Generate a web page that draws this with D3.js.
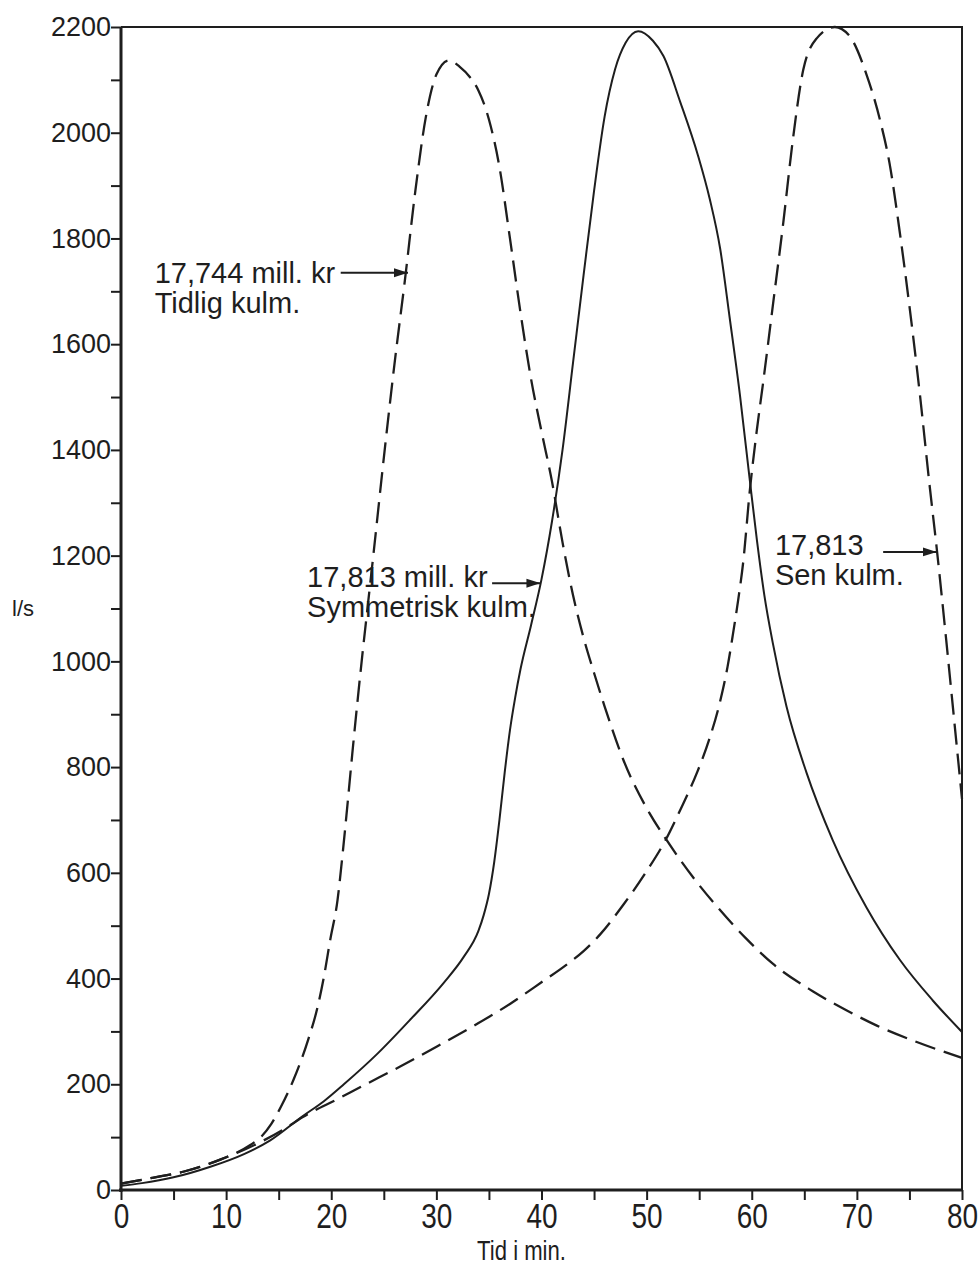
<!DOCTYPE html>
<html>
<head>
<meta charset="utf-8">
<script src="https://cdn.jsdelivr.net/npm/d3@7"></script>
<style>
  html, body { margin: 0; padding: 0; background: #fff; }
  svg { display: block; }
</style>
</head>
<body>
<svg id="chart" width="980" height="1268"></svg>
<script>
// ---------------- DATA ----------------
// Symmetrisk kulm. (solid)
const symT = [0, 2, 5, 8.5, 11.7, 14.2, 17.3, 19.3, 21.2, 24.4, 27.5, 30.7, 32.6, 34, 34.5, 35, 35.5, 36, 36.5, 37, 37.5, 38, 39, 40, 41, 42, 43, 44, 45, 46, 47, 48, 49.2, 50.6, 51.6, 53.2, 54.9, 56, 57, 57.9, 58.9, 59.8, 60.5, 61.2, 62, 63.3, 65.2, 67.7, 70.9, 74.1, 77.2, 80];
const symV = [8, 13, 24, 44, 68, 94, 140, 168, 200, 258, 322, 392, 441, 490, 520, 560, 620, 700, 790, 870, 932, 985, 1068, 1155, 1265, 1400, 1565, 1730, 1890, 2030, 2120, 2170, 2192, 2174, 2145, 2058, 1956, 1875, 1780, 1650, 1500, 1345, 1228, 1125, 1035, 915, 790, 662, 535, 435, 359, 299];

// Tidlig kulm. (dashed)
const earlyT = [0, 3, 6, 9.5, 12.3, 13.3, 14.3, 15.2, 16.4, 17.8, 18.7, 19.3, 19.9, 20.6, 21, 21.5, 22, 22.5, 23, 23.5, 24, 25, 26, 27, 28, 29, 30, 31.2, 32.2, 33.2, 34, 35, 36, 37, 38, 39, 40, 41, 42, 43, 44, 45, 46, 47.8, 50.3, 51.8, 54.4, 56.7, 59.5, 62, 65.8, 69, 71.9, 75.7, 80];
const earlyV = [12, 23, 35, 58, 85, 100, 125, 157, 208, 284, 346, 403, 473, 549, 620, 720, 825, 925, 1020, 1110, 1200, 1385, 1560, 1720, 1890, 2030, 2110, 2137, 2125, 2105, 2080, 2025, 1935, 1800, 1660, 1535, 1435, 1340, 1225, 1125, 1045, 978, 915, 813, 712, 665, 592, 536, 475, 428, 376, 340, 311, 280, 250];

// Sen kulm. (dashed)
const lateT = [0, 3, 6, 9.5, 13, 15.5, 17.3, 20.6, 23.1, 26.6, 30.1, 33.5, 37, 40, 42.5, 44, 45.6, 47.8, 50, 51.8, 53.2, 54.8, 56, 57, 57.7, 58.2, 58.7, 59.2, 59.8, 60.5, 61.1, 62, 63, 63.9, 64.9, 66.2, 67.9, 69.3, 70.9, 72.2, 73.1, 74.1, 75, 76, 76.9, 77.6, 78.5, 79.3, 80];
const lateV = [12, 23, 35, 58, 88, 115, 138, 172, 198, 234, 272, 310, 352, 393, 428, 452, 484, 540, 603, 662, 719, 790, 855, 925, 990, 1050, 1115, 1190, 1320, 1440, 1530, 1672, 1830, 1985, 2119, 2179, 2200, 2183, 2111, 2024, 1943, 1809, 1672, 1504, 1336, 1213, 1040, 880, 740];

// Axis ticks
const xTicks = [0, 5, 10, 15, 20, 25, 30, 35, 40, 45, 50, 55, 60, 65, 70, 75, 80];
const yTicks = d3.range(0, 2201, 100);

// Annotation texts
const annLine1 = ["17,744 mill. kr", "17,813 mill. kr", "17,813"];
const annLine2 = ["Tidlig kulm.", "Symmetrisk kulm.", "Sen kulm."];
// annotation anchor points in data space (time, l/s)
const annTextT = [3.2, 17.7, 62.2];
const annTextV = [1716, 1141, 1201];
const annArrowFromT = [20.9, 35.3, 72.5];
const annArrowToT = [27.3, 39.9, 77.6];
const annArrowV = [1735, 1148, 1207];

// ---------------- DRAW ----------------
(function () {
const svg = d3.select("#chart");
const pl = 121, pr = 962, pt = 27, pb = 1190;
const x = d3.scaleLinear().domain([0, 80]).range([pl, pr]);
const y = d3.scaleLinear().domain([0, 2200]).range([pb, pt]);
const ink = "#1e1e1e";
const font = "'Liberation Sans', Arial, sans-serif";

svg.append("defs").append("marker")
  .attr("id", "arrow")
  .attr("viewBox", "0 0 14 10")
  .attr("refX", 14).attr("refY", 5)
  .attr("markerWidth", 14).attr("markerHeight", 10)
  .attr("markerUnits", "userSpaceOnUse")
  .attr("orient", "auto")
  .append("path").attr("d", "M0,0.5 L14,5 L0,9.5 Z").attr("fill", ink);

// frame (top and right)
svg.append("path")
  .attr("d", `M${x(0)},${y(2200)} L${x(80)},${y(2200)} L${x(80)},${y(0)}`)
  .attr("fill", "none").attr("stroke", ink).attr("stroke-width", 2);

// Y axis
const yAxis = d3.axisLeft(y).tickValues(yTicks).tickSize(10).tickPadding(0)
  .tickFormat(d => d % 200 === 0 ? String(d) : "");
const gy = svg.append("g").attr("transform", `translate(${pl},0)`).call(yAxis);
gy.select(".domain").remove();
gy.selectAll("line").attr("stroke", ink).attr("stroke-width", 2);
gy.selectAll("text").attr("fill", ink)
  .style("font-family", font).style("font-size", "27px");
svg.append("line").attr("x1", pl).attr("x2", pl).attr("y1", y(2200)).attr("y2", y(0) + 2)
  .attr("stroke", ink).attr("stroke-width", 3);

// X axis
const xAxis = d3.axisBottom(x).tickValues(xTicks).tickSize(10).tickPadding(3)
  .tickFormat(d => d % 10 === 0 ? String(d) : "");
const gx = svg.append("g").attr("transform", `translate(0,${pb})`).call(xAxis);
gx.select(".domain").remove();
gx.selectAll("line").attr("stroke", ink).attr("stroke-width", 2);
gx.selectAll("text").attr("fill", ink)
  .style("font-family", font).style("font-size", "35px")
  .attr("transform", "scale(0.8,1)");
svg.append("line").attr("x1", pl - 2).attr("x2", pr).attr("y1", pb).attr("y2", pb)
  .attr("stroke", ink).attr("stroke-width", 3);

// axis titles
svg.append("text")
  .attr("transform", `translate(${x(38.1)},1260) scale(0.82,1)`)
  .attr("text-anchor", "middle").attr("fill", ink)
  .style("font-family", font).style("font-size", "27px")
  .text("Tid i min.");
svg.append("text")
  .attr("x", 12).attr("y", 616).attr("fill", ink)
  .style("font-family", font).style("font-size", "22px")
  .text("l/s");

// curves
const line = d3.line().x(d => x(d[0])).y(d => y(d[1])).curve(d3.curveMonotoneX);
const zip = (a, b) => a.map((t, i) => [t, b[i]]);

svg.append("path").datum(zip(earlyT, earlyV)).attr("d", line)
  .attr("fill", "none").attr("stroke", ink).attr("stroke-width", 2.3)
  .attr("stroke-dasharray", "21,9");
svg.append("path").datum(zip(lateT, lateV)).attr("d", line)
  .attr("fill", "none").attr("stroke", ink).attr("stroke-width", 2.3)
  .attr("stroke-dasharray", "21,9");
svg.append("path").datum(zip(symT, symV)).attr("d", line)
  .attr("fill", "none").attr("stroke", ink).attr("stroke-width", 2);

// annotations
annLine1.forEach((txt, i) => {
  const t = svg.append("text")
    .attr("x", x(annTextT[i])).attr("y", y(annTextV[i])).attr("fill", ink)
    .style("font-family", font).style("font-size", "29px");
  t.append("tspan").attr("x", x(annTextT[i])).text(txt);
  t.append("tspan").attr("x", x(annTextT[i])).attr("dy", 30).text(annLine2[i]);
  svg.append("line")
    .attr("x1", x(annArrowFromT[i])).attr("x2", x(annArrowToT[i]))
    .attr("y1", y(annArrowV[i])).attr("y2", y(annArrowV[i]))
    .attr("stroke", ink).attr("stroke-width", 2)
    .attr("marker-end", "url(#arrow)");
});
})();
</script>
</body>
</html>
